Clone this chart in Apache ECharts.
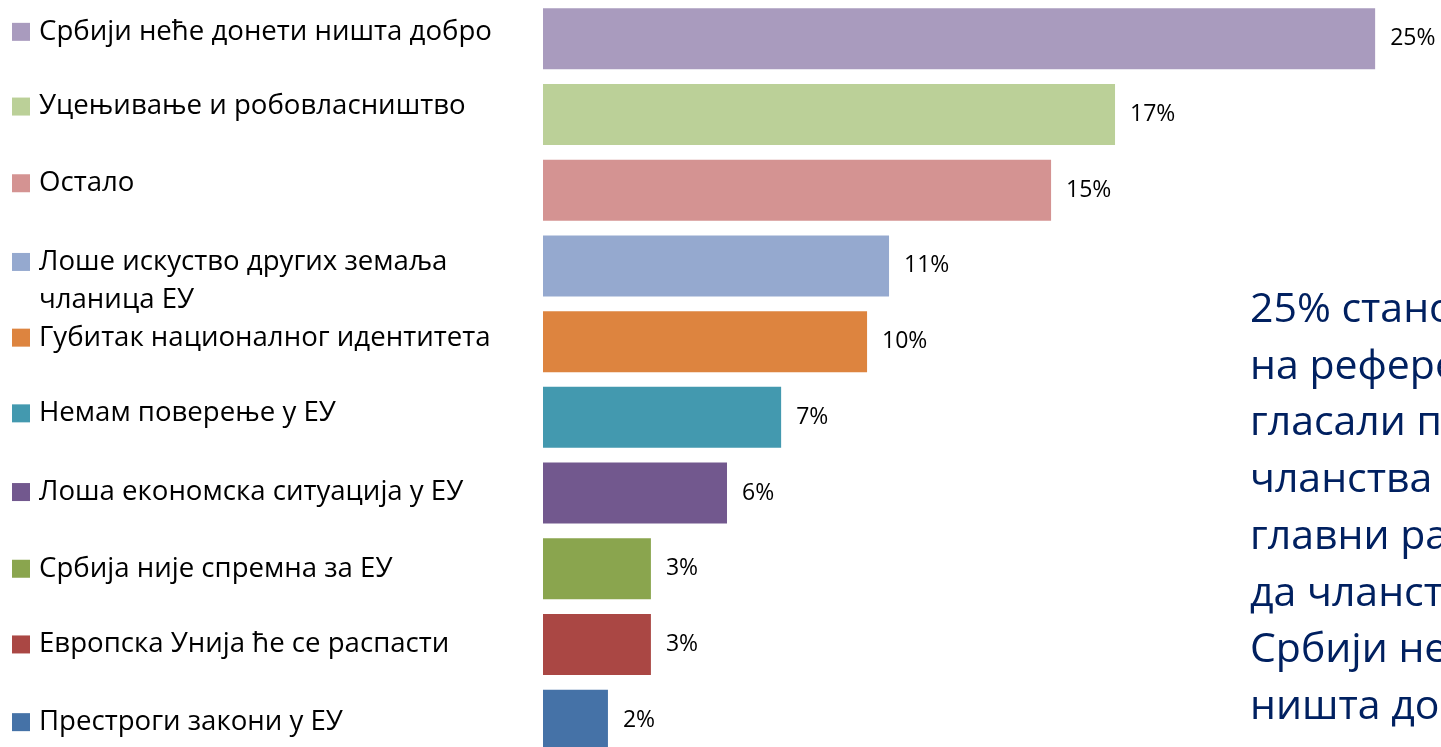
<!DOCTYPE html>
<html>
<head>
<meta charset="utf-8">
<script src="https://cdn.jsdelivr.net/npm/echarts@6/dist/echarts.min.js"></script>
<style>
html,body{margin:0;padding:0;background:#fff;}
#c{width:1441px;height:747px;}
</style>
</head>
<body>
<div id="c"></div>
<script>
const categories = [
  'Србији неће донети ништа добро',
  'Уцењивање и робовласништво',
  'Остало',
  'Лоше искуство других земаља\nчланица ЕУ',
  'Губитак националног идентитета',
  'Немам поверење у ЕУ',
  'Лоша економска ситуација у ЕУ',
  'Србија није спремна за ЕУ',
  'Европска Унија ће се распасти',
  'Престроги закони у ЕУ'
];
const values = [25.37, 17.44, 15.49, 10.55, 9.88, 7.26, 5.61, 3.29, 3.29, 1.98];
const shownPercent = [25, 17, 15, 11, 10, 7, 6, 3, 3, 2];
const colors = ['#A99BBE', '#BBD098', '#D49392', '#95A9CF', '#DD843F', '#4399AF', '#72588E', '#8AA54E', '#AA4744', '#4572A7'];
const sideText = [
  '25% становништва који би',
  'на референдуму',
  'гласали против',
  'чланства у ЕУ',
  'главни разлог је',
  'да чланство у ЕУ',
  'Србији неће донети',
  'ништа добро'
];

// small vertical nudges of the legend-style labels (style only)
const labelNudge = [-7, -8, -7, 15, -4, -4, -1, 0, 0, 2];

const FONT = 'Open Sans';
const rich = {
  t: { fontFamily: FONT, fontSize: 27.6, color: '#000', lineHeight: 38 },
  ind: { width: 27, height: 18 },
  gap: { width: 9, height: 18 }
};
colors.forEach((c, i) => {
  rich['s' + i] = { width: 18, height: 18, backgroundColor: c };
});

const yData = categories.map((c, i) => {
  const d = labelNudge[i];
  const pad = d >= 0 ? [2 * d, 0, 0, 0] : [0, 0, -2 * d, 0];
  return { value: c, textStyle: { padding: pad, align: 'left', verticalAlign: 'middle' } };
});

const chart = echarts.init(document.getElementById('c'), null, { renderer: 'canvas' });
chart.setOption({
  animation: false,
  grid: { left: 543, top: 1, width: 984, height: 757, containLabel: false, outerBoundsMode: 'none' },
  xAxis: {
    type: 'value', min: 0, max: 30,
    show: false
  },
  yAxis: {
    type: 'category',
    inverse: true,
    data: yData,
    axisLine: { show: false },
    axisTick: { show: false },
    splitLine: { show: false },
    axisLabel: {
      align: 'left',
      margin: 531,
      hideOverlap: false,
      formatter: function (value, index) {
        const parts = value.split('\n');
        let s = '{s' + index + '|}{gap|}{t|' + parts[0] + '}';
        for (let k = 1; k < parts.length; k++) s += '\n{ind|}{t|' + parts[k] + '}';
        return s;
      },
      rich: rich
    }
  },
  series: [{
    type: 'bar',
    barWidth: 61,
    data: values.map((v, i) => ({ value: v, itemStyle: { color: colors[i] } })),
    label: {
      show: true,
      position: 'right',
      distance: 15,
      fontFamily: FONT,
      fontSize: 23,
      color: '#000',
      formatter: p => shownPercent[p.dataIndex] + '%'
    }
  }],
  graphic: [{
    type: 'text',
    left: 1250,
    top: 282,
    style: {
      text: sideText.join('\n'),
      fontFamily: FONT,
      fontSize: 41,
      lineHeight: 56.7,
      fill: '#002060'
    }
  }]
});
</script>
</body>
</html>
